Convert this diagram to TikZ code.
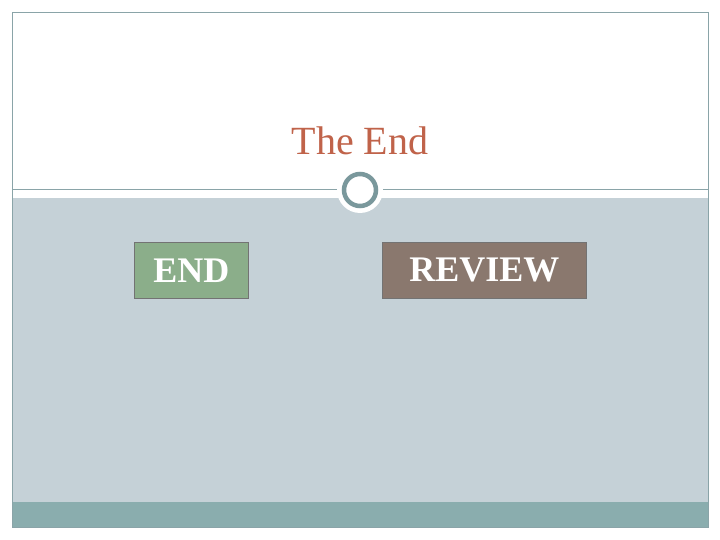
\documentclass[tikz,border=0pt]{standalone}
\usepackage{fontspec}
\setmainfont{Liberation Serif}
\definecolor{frame}{HTML}{8AA4A8}
\definecolor{band}{HTML}{C5D1D7}
\definecolor{foot}{HTML}{8AADAE}
\definecolor{ring}{HTML}{7A989C}
\definecolor{title}{HTML}{C0634A}
\definecolor{endc}{HTML}{8BAE8A}
\definecolor{revc}{HTML}{8A786E}
\tikzset{btn/.style={draw=black!55,line width=0.8pt,inner sep=0pt,text=white,font=\fontsize{36}{40}\selectfont\bfseries,anchor=north west}}
\begin{document}
\begin{tikzpicture}[x=1pt,y=-1pt]
\useasboundingbox (0,0) rectangle (720,540);
\fill[white] (0,0) rectangle (720,540);
\fill[band] (12,198) rectangle (708,502);
\fill[foot] (12,502) rectangle (708,527);
\draw[frame,line width=0.8pt] (12,12) rectangle (708,527);
\draw[frame,line width=1pt] (12,190) -- (708,190);
\fill[white] (360,190) circle (23);
\draw[ring,line width=4.5pt] (360,190) circle (16);
\node (title) at (360,141) {\fontsize{40}{44}\selectfont\color{title}The End};
\node[btn,fill=endc,minimum width=114pt,minimum height=56pt] (end) at (134,242) {END};
\node[btn,fill=revc,minimum width=204pt,minimum height=56pt] (rev) at (382,242) {REVIEW};
\end{tikzpicture}
\end{document}
